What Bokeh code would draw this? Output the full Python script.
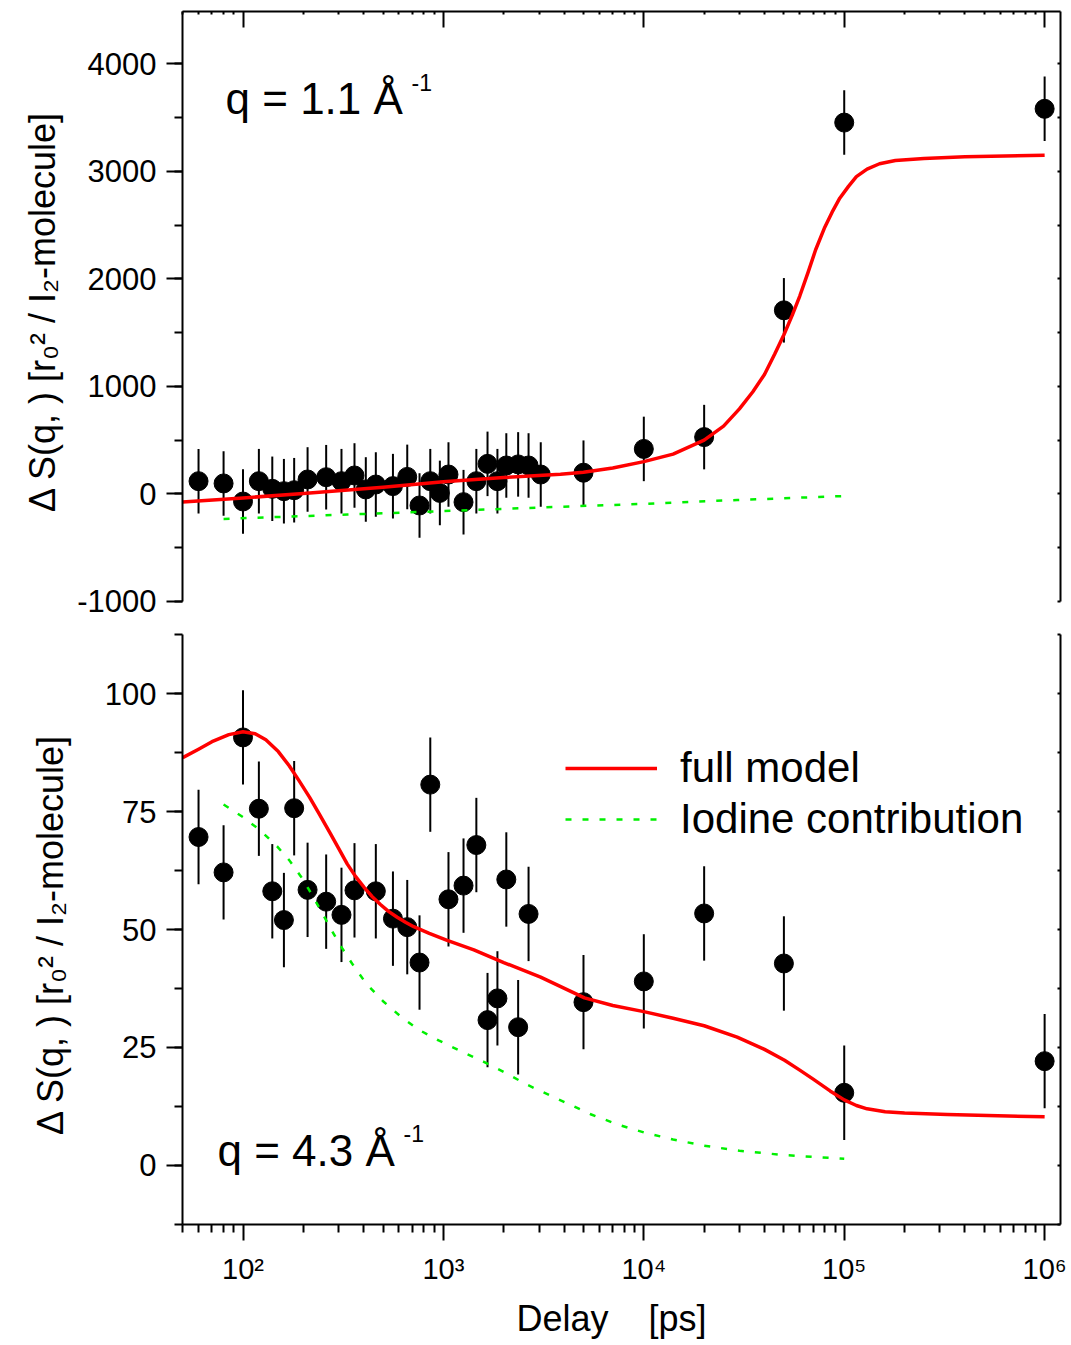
from bokeh.plotting import figure
from bokeh.models import (Range1d, LinearAxis, FixedTicker, SingleIntervalTicker,
                          ColumnDataSource, Label, Legend, LegendItem)
from bokeh.layouts import column
from bokeh.embed import file_html
from bokeh.resources import INLINE

FONT = "Liberation Sans"

# ---------------- data: upper panel (q = 1.1 1/A) ----------------
top_x = [60, 80, 100, 120, 140, 160, 180, 210, 260, 310, 360, 410, 460, 560, 660,
         760, 860, 960, 1060, 1260, 1460, 1660, 1860, 2060, 2360, 2660, 3060,
         5000, 10000, 20000, 50000, 100000, 1000000]
top_y = [118, 97, -71, 118, 47, 25, 34, 134, 155, 118, 171, 41, 87, 72, 158,
         -108, 118, 9, 180, -77, 118, 279, 118, 264, 274, 264, 180,
         197, 418, 528, 1707, 3453, 3581]
top_err = [300, 300, 300, 300, 300, 300, 300, 300, 300, 300, 300, 300, 300, 300, 300,
           300, 300, 300, 300, 300, 300, 300, 300, 300, 300, 300, 300,
           300, 300, 300, 300, 300, 300]

top_model_x = [50, 100, 200, 500, 1000, 2000, 3837, 5000, 7000, 10000, 14000, 20000,
               25000, 30000, 35000, 40000, 45000, 50000, 55000, 60000, 66000, 72000,
               80000, 87000, 95000, 105000, 115000, 130000, 150000, 180000, 250000,
               400000, 1000000]
top_model_y = [-76, -38, 4, 62, 112, 152, 182, 201, 240, 300, 370, 500,
               630, 790, 950, 1110, 1300, 1480, 1660, 1840, 2060, 2270,
               2480, 2620, 2750, 2860, 2950, 3020, 3070, 3100, 3120,
               3135, 3149]

top_iod_x = [80, 333, 1340, 3660, 10000, 29220, 100000]
top_iod_y = [-233, -192, -152, -121, -93, -57, -20]

# ---------------- data: lower panel (q = 4.3 1/A) ----------------
bot_x = [60, 80, 100, 120, 140, 160, 180, 210, 260, 310, 360, 460, 560, 660, 760,
         860, 1060, 1260, 1460, 1660, 1860, 2060, 2360, 2660,
         5000, 10000, 20000, 50000, 100000, 1000000]
bot_y = [69.6, 62.1, 90.7, 75.6, 58.1, 52.0, 75.7, 58.4, 55.9, 53.1, 58.3, 58.1, 52.3, 50.5, 43.0,
         80.7, 56.4, 59.3, 67.9, 30.8, 35.4, 60.6, 29.3, 53.3,
         34.6, 39.0, 53.4, 42.8, 15.4, 22.1]
bot_err = [10, 10, 10, 10, 10, 10, 10, 10, 10, 10, 10, 10, 10, 10, 10,
           10, 10, 10, 10, 10, 10, 10, 10, 10,
           10, 10, 10, 10, 10, 10]

bot_model_x = [50, 60, 70, 85, 100, 115, 130, 150, 170, 190, 215, 240, 273, 300, 331,
               365, 401, 440, 485, 530, 588, 650, 711, 850, 1044, 1419, 2000, 3055,
               5058, 7000, 10000, 14000, 20000, 29220, 40000, 50370, 60000, 70000,
               85000, 100000, 115000, 130000, 160000, 200000, 326700, 1000000]
bot_model_y = [86.4, 88.2, 89.8, 91.3, 91.9, 91.5, 90.2, 87.7, 84.7, 81.6, 78.0, 74.5, 70.3, 67.2, 63.9,
               61.2, 59.0, 57.0, 55.3, 53.9, 52.6, 51.5, 50.6, 49.2, 47.7, 45.7, 43.0, 39.9,
               35.5, 33.9, 32.6, 31.2, 29.6, 27.2, 24.6, 22.3, 20.2, 18.3,
               15.8, 13.9, 12.7, 12.0, 11.4, 11.1, 10.8, 10.3]

bot_iod_x = [80, 100, 122, 148, 170, 194, 213, 239, 273, 304, 350, 411, 500, 611, 750,
             946, 1250, 1582, 2000, 2648, 3500, 5470, 7500, 10000, 14000, 20000, 30000,
             50370, 100000]
bot_iod_y = [76.5, 73.8, 71.0, 67.6, 64.7, 61.3, 58.5, 54.8, 50.3, 46.8, 42.8, 38.6, 34.8, 31.6, 28.8,
             26.5, 24.0, 22.0, 19.8, 17.0, 14.6, 10.8, 8.6, 7.0, 5.5, 4.2, 3.1,
             2.2, 1.4]

# ---------------- axis ticks ----------------
x_major = [1e2, 1e3, 1e4, 1e5, 1e6]
x_minor = [m * 10 ** e for e in range(1, 6) for m in range(2, 10) if m * 10 ** e >= 50]
x_labels = {100: "10²", 1000: "10³", 10000: "10⁴", 100000: "10⁵", 1000000: "10⁶"}
y_top_labels = {-1000: "-1000"}

YLABEL = "Δ S(q,  ) [r₀² / I₂-molecule]"
ANG = "\u00c5"
RED = "#ff0000"
GREEN = "#00f000"


def make_fig(height, yr, top_b, bot_b, xloc):
    p = figure(width=1071, height=height, x_axis_type="log", x_axis_location=xloc,
               x_range=Range1d(49.9, 1.2e6), y_range=Range1d(*yr),
               output_backend="svg", toolbar_location=None,
               min_border_left=182, min_border_right=11,
               min_border_top=top_b, min_border_bottom=bot_b)
    p.outline_line_color = None
    p.xgrid.visible = False
    p.ygrid.visible = False
    return p


def style_axis(ax, tick_in, tick_out, mtick_in, mtick_out, font_size="31px", standoff=10,
               hide_labels=False):
    ax.axis_line_width = 2
    ax.axis_line_color = "black"
    ax.major_tick_line_width = 2
    ax.minor_tick_line_width = 2
    ax.major_tick_in = tick_in
    ax.major_tick_out = tick_out
    ax.minor_tick_in = mtick_in
    ax.minor_tick_out = mtick_out
    ax.major_label_text_font = FONT
    ax.major_label_text_font_size = font_size
    ax.major_label_text_color = "black"
    ax.major_label_standoff = standoff
    if hide_labels:
        ax.major_label_text_font_size = "1px"
        ax.major_label_text_alpha = 0
        ax.major_label_standoff = 0
    ax.axis_label_text_font = FONT
    ax.axis_label_text_font_style = "normal"
    ax.axis_label_text_font_size = "36px"
    ax.axis_label_text_color = "black"


def add_data(p, xs, ys, es, mx, my, ix, iy):
    src = ColumnDataSource(dict(x=xs, y=ys,
                                lo=[a - b for a, b in zip(ys, es)],
                                hi=[a + b for a, b in zip(ys, es)]))
    p.segment(x0="x", y0="lo", x1="x", y1="hi", source=src, line_color="black", line_width=2)
    p.scatter(x="x", y="y", source=src, size=19, fill_color="black", line_color="black")
    g = p.line(ix, iy, line_color=GREEN, line_width=2.5, line_dash="6 11")
    r = p.line(mx, my, line_color=RED, line_width=3.5, line_join="round")
    return r, g


def q_label(p, x, y, txt, sx, sy):
    p.add_layout(Label(x=x, y=y, text="q = " + txt + " " + ANG, text_font=FONT,
                       text_font_size="44px", text_color="black",
                       text_align="left", text_baseline="alphabetic"))
    p.add_layout(Label(x=sx, y=sy, text="-1", text_font=FONT, text_font_size="23px",
                       text_color="black", text_align="left", text_baseline="alphabetic"))


# ---------------- upper figure ----------------
p1 = make_fig(623, (-1001, 4486), 11, 22, "above")
ax = p1.xaxis[0]
ax.ticker = FixedTicker(ticks=x_major, minor_ticks=x_minor)
style_axis(ax, 16, 0, 3, 0, hide_labels=True)
ay = p1.yaxis[0]
ay.ticker = SingleIntervalTicker(interval=1000, num_minor_ticks=2)
style_axis(ay, 0, 16, 0, 8)
ay.major_label_overrides = y_top_labels
ay.axis_label = YLABEL
ay.axis_label_standoff = 11
ar = LinearAxis(ticker=SingleIntervalTicker(interval=500, num_minor_ticks=2))
style_axis(ar, 3, 0, 0, 0, hide_labels=True)
p1.add_layout(ar, "right")
add_data(p1, top_x, top_y, top_err, top_model_x, top_model_y, top_iod_x, top_iod_y)
q_label(p1, 81.8, 3681, "1.1", 693, 3830)

# ---------------- lower figure ----------------
p2 = make_fig(722, (-12.51, 112.51), 11, 121, "below")
bx = p2.xaxis[0]
bx.ticker = FixedTicker(ticks=x_major, minor_ticks=x_minor)
style_axis(bx, 0, 16, 0, 8, font_size="29px", standoff=12)
bx.major_label_overrides = x_labels
bx.axis_label = "Delay\u00a0\u00a0\u00a0\u00a0[ps]\u00a0\u00a0"
bx.axis_label_standoff = 10
by = p2.yaxis[0]
by.ticker = SingleIntervalTicker(interval=25, num_minor_ticks=2)
style_axis(by, 0, 16, 0, 8)
by.axis_label = YLABEL
by.axis_label_standoff = 31
br = LinearAxis(ticker=SingleIntervalTicker(interval=12.5, num_minor_ticks=2))
style_axis(br, 3, 0, 0, 0, hide_labels=True)
p2.add_layout(br, "right")
r2, g2 = add_data(p2, bot_x, bot_y, bot_err, bot_model_x, bot_model_y, bot_iod_x, bot_iod_y)
q_label(p2, 74.6, 3.2, "4.3", 632, 6.8)

legend = Legend(items=[LegendItem(label="full model", renderers=[r2]),
                       LegendItem(label="Iodine contribution", renderers=[g2])],
                location=(383, 381), orientation="vertical",
                label_text_font=FONT, label_text_font_size="42px", label_text_color="black",
                glyph_width=92, glyph_height=40, label_height=40, label_standoff=23,
                spacing=3, padding=0, margin=0,
                border_line_color=None, background_fill_alpha=0)
p2.add_layout(legend)

layout = column(p1, p2, spacing=0)
open("out.html", "w").write(file_html(layout, INLINE))
